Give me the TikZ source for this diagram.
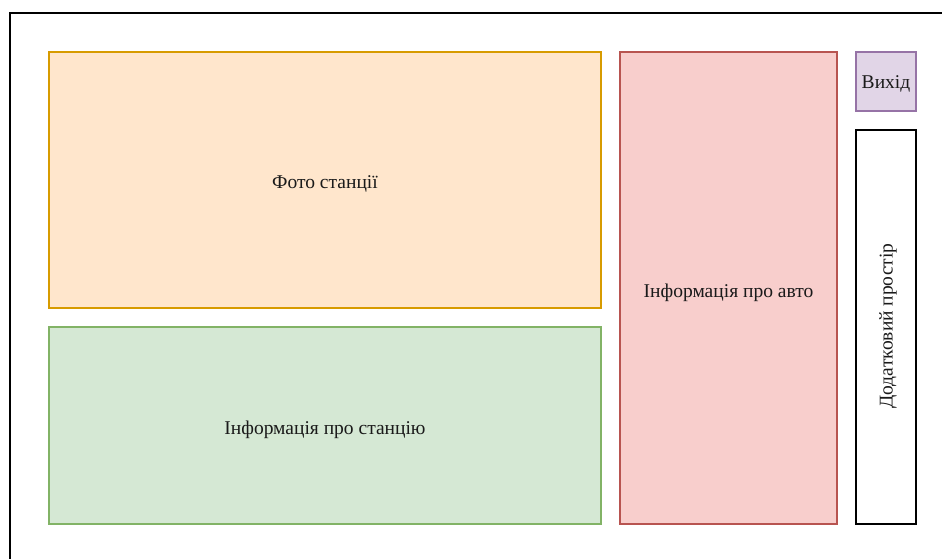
\documentclass[tikz,border=0pt]{standalone}
\usepackage{fontspec}
\setmainfont{Liberation Serif}
\definecolor{fOrange}{HTML}{FFE6CC}\definecolor{dOrange}{HTML}{D79B00}
\definecolor{fGreen}{HTML}{D5E8D4}\definecolor{dGreen}{HTML}{82B366}
\definecolor{fRed}{HTML}{F8CECC}\definecolor{dRed}{HTML}{B85450}
\definecolor{fPurple}{HTML}{E1D5E7}\definecolor{dPurple}{HTML}{9673A6}
\definecolor{txt}{HTML}{1A1A1A}
\begin{document}
\begin{tikzpicture}[x=1pt,y=-1pt,
  panel/.style={draw, line width=1.5pt},
  photo/.style={panel, fill=fOrange, draw=dOrange},
  stationinfo/.style={panel, fill=fGreen, draw=dGreen},
  carinfo/.style={panel, fill=fRed, draw=dRed},
  exitbtn/.style={panel, fill=fPurple, draw=dPurple},
  extra/.style={panel, fill=white, draw=black},
  label/.style={text=txt, inner sep=0pt, font=\fontsize{19.5}{23}\selectfont}]
\useasboundingbox (0,0) rectangle (942,558);
\clip (0,0) rectangle (942,558);
% screen frame, running off the right and bottom edges
\draw[line width=2pt] (10,13) rectangle (960,580);
% panels
\draw[photo] (49,52) rectangle (601,308);
\node[label] (photo) at (325,184) {Фото станції};
\draw[stationinfo] (49,327) rectangle (601,524);
\node[label] (station) at (325,430) {Інформація про станцію};
\draw[carinfo] (620,52) rectangle (837,524);
\node[label] (car) at (728.5,292.5) {Інформація про авто};
\draw[exitbtn] (856,52) rectangle (916,111);
\node[label] (exit) at (886,83.5) {Вихід};
\draw[extra] (856,130) rectangle (916,524);
\node[label, rotate=90] (extra) at (888,326) {Додатковий простір};
\end{tikzpicture}
\end{document}
